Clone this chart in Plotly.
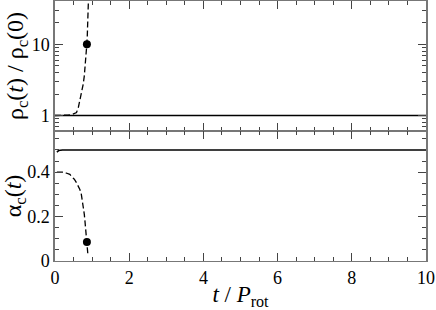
import plotly.graph_objects as go
from plotly.subplots import make_subplots

# top panel: central density ratio
t_rho_stable = [0, 10]
rho_stable = [1.0, 1.0]
t_rho_unstable = [0, 0.2, 0.35, 0.45, 0.52, 0.58, 0.63, 0.67, 0.72, 0.76, 0.79, 0.81, 0.83, 0.85, 0.87, 0.88, 0.89, 0.9]
rho_unstable = [1.0, 1.0, 1.01, 1.03, 1.06, 1.1, 1.3, 1.6, 2.1, 2.75, 3.6, 4.6, 6.2, 8.9, 13, 17, 25, 40]
t_rho_dot = [0.86]
rho_dot = [10]

# bottom panel: alpha_c
t_alpha_stable = [0.05, 0.1, 0.2, 10]
alpha_stable = [0.49, 0.497, 0.5, 0.5]
t_alpha_unstable = [0.05, 0.2, 0.3, 0.4, 0.45, 0.52, 0.58, 0.63, 0.67, 0.71, 0.74, 0.77, 0.79, 0.81, 0.83, 0.86, 0.88, 0.89]
alpha_unstable = [0.4, 0.4, 0.396, 0.39, 0.38, 0.368, 0.352, 0.338, 0.322, 0.3, 0.27, 0.24, 0.21, 0.175, 0.135, 0.082, 0.045, 0.022]
t_alpha_dot = [0.86]
alpha_dot = [0.085]

FONT = "Liberation Serif"

fig = make_subplots(rows=2, cols=1, shared_xaxes=True, vertical_spacing=0)

fig.add_trace(go.Scatter(x=t_rho_stable, y=rho_stable, mode="lines",
                         line=dict(color="black", width=1.5)), row=1, col=1)
fig.add_trace(go.Scatter(x=t_rho_unstable, y=rho_unstable, mode="lines",
                         line=dict(color="black", width=1.3, dash="6px,3px")), row=1, col=1)
fig.add_trace(go.Scatter(x=t_rho_dot, y=rho_dot, mode="markers",
                         marker=dict(color="black", size=8)), row=1, col=1)

fig.add_trace(go.Scatter(x=t_alpha_stable, y=alpha_stable, mode="lines",
                         line=dict(color="black", width=1.5)), row=2, col=1)
fig.add_trace(go.Scatter(x=t_alpha_unstable, y=alpha_unstable, mode="lines",
                         line=dict(color="black", width=1.3, dash="6px,3px")), row=2, col=1)
fig.add_trace(go.Scatter(x=t_alpha_dot, y=alpha_dot, mode="markers",
                         marker=dict(color="black", size=8)), row=2, col=1)

axis_style = dict(showline=True, linecolor="#777", mirror="allticks",
                  ticks="inside", tickcolor="#444", tickwidth=1, showgrid=False, zeroline=False,
                  automargin=False)

fig.update_xaxes(range=[0, 10], tickvals=[0, 2, 4, 6, 8, 10], ticklen=8, linewidth=1,
                 minor=dict(ticks="inside", dtick=0.5, tick0=0, ticklen=4, tickcolor="#444"),
                 **axis_style)
fig.update_xaxes(showticklabels=False, row=1, col=1)
fig.update_xaxes(title=dict(text="<i>t</i> / <i>P</i><sub>rot</sub>",
                            font=dict(family=FONT, size=23, color="black"), standoff=0),
                 row=2, col=1)

fig.update_yaxes(type="log", range=[-0.218, 1.608], tickvals=[1, 10], ticklen=8, linewidth=1.5,
                 minor=dict(ticks="inside", tickvals=[0.7, 0.8, 0.9, 2, 3, 4, 5, 6, 7, 8, 9, 20, 30, 40],
                            ticklen=4, tickcolor="#444"),
                 title=dict(text="ρ<sub>c</sub>(<i>t</i>) / ρ<sub>c</sub>(0)",
                            font=dict(family=FONT, size=24, color="black"), standoff=0),
                 row=1, col=1, **axis_style)
fig.update_yaxes(range=[0, 0.585], tickvals=[0, 0.2, 0.4], ticktext=["0", "0.2", "0.4"], ticklen=8,
                 linewidth=1.5,
                 minor=dict(ticks="inside", dtick=0.05, tick0=0, ticklen=4, tickcolor="#444"),
                 title=dict(text="α<sub>c</sub>(<i>t</i>)",
                            font=dict(family=FONT, size=24, color="black"), standoff=0),
                 row=2, col=1, **axis_style)

fig.update_xaxes(tickfont=dict(family=FONT, size=18, color="black"))
fig.update_yaxes(tickfont=dict(family=FONT, size=18, color="black"))

fig.update_layout(width=436, height=310, margin=dict(l=55, r=10, t=1, b=49),
                  showlegend=False, plot_bgcolor="white", paper_bgcolor="white",
                  font=dict(family=FONT, color="black", size=18),
                  template="none")

fig.write_html("out.html", config={"displayModeBar": False},
               post_script="document.body.style.margin='0';")
